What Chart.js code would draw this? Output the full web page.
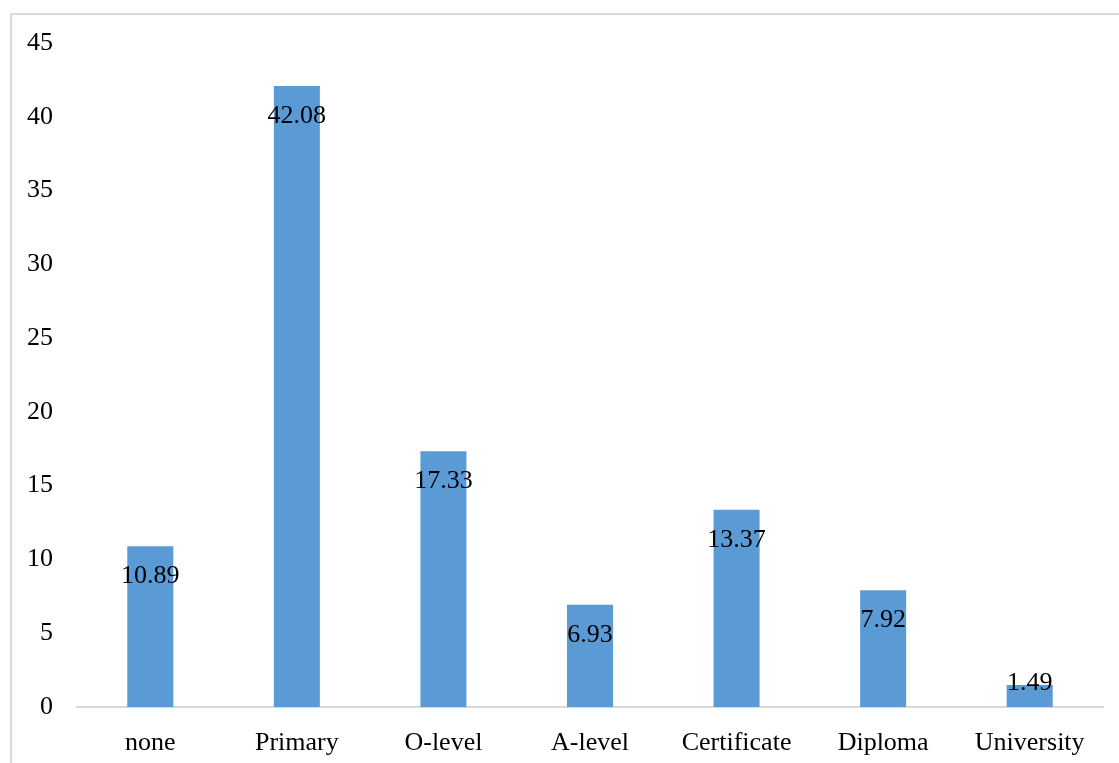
<!DOCTYPE html>
<html lang="en">
<head>
    <meta charset="UTF-8">
    <title>Education Level</title>
    <script src="https://cdn.jsdelivr.net/npm/chart.js"></script>
    <style>
        html, body { margin: 0; padding: 0; overflow: hidden; background: #fff; }
        #wrap { position: relative; width: 1119px; height: 763px; }
        #frame {
            position: absolute; left: 10px; top: 13px;
            width: 1200px; height: 800px;
            border: 2px solid #d9d9d9; pointer-events: none;
        }
    </style>
</head>
<body>
    <div id="wrap">
        <canvas id="eduChart" width="1119" height="763"></canvas>
        <div id="frame"></div>
    </div>

    <script>
        const categories = ['none', 'Primary', 'O-level', 'A-level', 'Certificate', 'Diploma', 'University'];
        const percentages = [10.89, 42.08, 17.33, 6.93, 13.37, 7.92, 1.49];
        const yTicks = [0, 5, 10, 15, 20, 25, 30, 35, 40, 45];

        const serif = "'Liberation Serif', 'Times New Roman', serif";

        // value labels drawn just inside the top of each bar
        const barLabels = {
            id: 'barLabels',
            afterDatasetsDraw(chart) {
                const ctx = chart.ctx;
                const meta = chart.getDatasetMeta(0);
                const base = chart.scales.y.getPixelForValue(0);
                ctx.save();
                ctx.font = '26px ' + serif;
                ctx.fillStyle = '#000';
                ctx.textAlign = 'center';
                ctx.textBaseline = 'middle';
                meta.data.forEach((bar, i) => {
                    const y = Math.min(bar.y + 30, base - 24);
                    ctx.fillText(percentages[i].toFixed(2), bar.x, y);
                });
                ctx.restore();
            }
        };

        const ctx = document.getElementById('eduChart').getContext('2d');
        const eduChart = new Chart(ctx, {
            type: 'bar',
            data: {
                labels: categories,
                datasets: [{
                    data: percentages,
                    backgroundColor: '#5b9bd5',
                    barPercentage: 0.314,
                    categoryPercentage: 1.0
                }]
            },
            options: {
                responsive: false,
                animation: false,
                devicePixelRatio: 1,
                layout: { padding: { top: 43, right: 16, left: 0, bottom: 0 } },
                plugins: {
                    legend: { display: false },
                    tooltip: { enabled: false }
                },
                scales: {
                    x: {
                        grid: { display: false },
                        border: { display: true, color: '#d9d9d9', width: 2 },
                        ticks: {
                            color: '#000',
                            padding: 13,
                            font: { family: serif, size: 26 }
                        },
                        afterFit: (scale) => { scale.height = 56; }
                    },
                    y: {
                        min: 0,
                        max: 45,
                        afterBuildTicks: (scale) => { scale.ticks = yTicks.map(v => ({ value: v })); },
                        grid: { display: false },
                        border: { display: false },
                        ticks: {
                            color: '#000',
                            padding: 16,
                            font: { family: serif, size: 26 }
                        },
                        afterFit: (scale) => { scale.width = 77; }
                    }
                }
            },
            plugins: [barLabels]
        });
    </script>
</body>
</html>
